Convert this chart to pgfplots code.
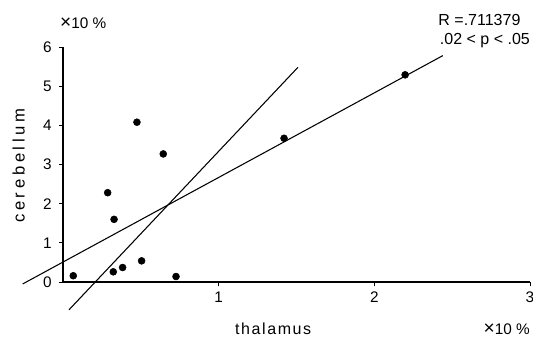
\documentclass[border=0pt]{standalone}
\usepackage{fontspec}
\setmainfont{Liberation Sans}
\usepackage{pgfplots}
\pgfplotsset{compat=1.18}
\begin{document}
\begin{tikzpicture}
\useasboundingbox (-47.25pt,-41.25pt) rectangle (352.5pt,211.5pt);
\begin{axis}[
  at={(0,0)}, anchor=origin,
  scale only axis, width=350.25pt, height=176.25pt,
  xmin=0, xmax=3, ymin=0, ymax=6,
  axis lines*=left,
  axis line style={line width=0.8pt},
  xtick={1,2,3}, ytick={0,1,2,3,4,5,6},
  tick align=outside, major tick length=3pt,
  tick style={black, line width=0.6pt},
  clip=false,
  /pgf/number format/assume math mode=true,
  ticklabel style={font=\fontsize{11.5}{13}\selectfont},
  yticklabel style={xshift=-2pt},
  xticklabel style={yshift=-1pt},
]
\addplot[only marks, mark=*, mark size=2.6pt, black] coordinates {
 (0.066,0.16) (0.287,2.28) (0.328,1.60) (0.323,0.26) (0.383,0.37)
 (0.505,0.54) (0.726,0.14) (0.475,4.08) (0.644,3.27) (1.42,3.67) (2.198,5.29)
};
\addplot[black, line width=0.8pt] coordinates {(-0.259,-0.05) (2.44,5.78)};
\addplot[black, line width=0.8pt] coordinates {(0.0385,-0.71) (1.509,5.48)};
\node[font=\fontsize{12}{14}\selectfont\addfontfeature{LetterSpace=10}] at (axis cs:1.35,-1.2) {thalamus};
\node[font=\fontsize{11.5}{13}\selectfont, anchor=east, inner sep=0pt] at (axis cs:3.0,-1.2) {\scalebox{1.25}{×}10 \%};
\node[font=\fontsize{12.5}{14}\selectfont\addfontfeature{LetterSpace=22}, rotate=90] at (axis cs:-0.285,2.97) {cerebellum};
\node[font=\fontsize{12}{14}\selectfont, anchor=west, inner sep=0pt] at (axis cs:2.41,6.68) {R =.711379};
\node[font=\fontsize{12}{14}\selectfont, anchor=west, inner sep=0pt] at (axis cs:2.42,6.17) {.02 < p <\ .05};
\node[font=\fontsize{11.5}{13}\selectfont, anchor=west, inner sep=0pt] at (axis cs:-0.02,6.62) {\scalebox{1.25}{×}10 \%};
\end{axis}
\end{tikzpicture}
\end{document}
